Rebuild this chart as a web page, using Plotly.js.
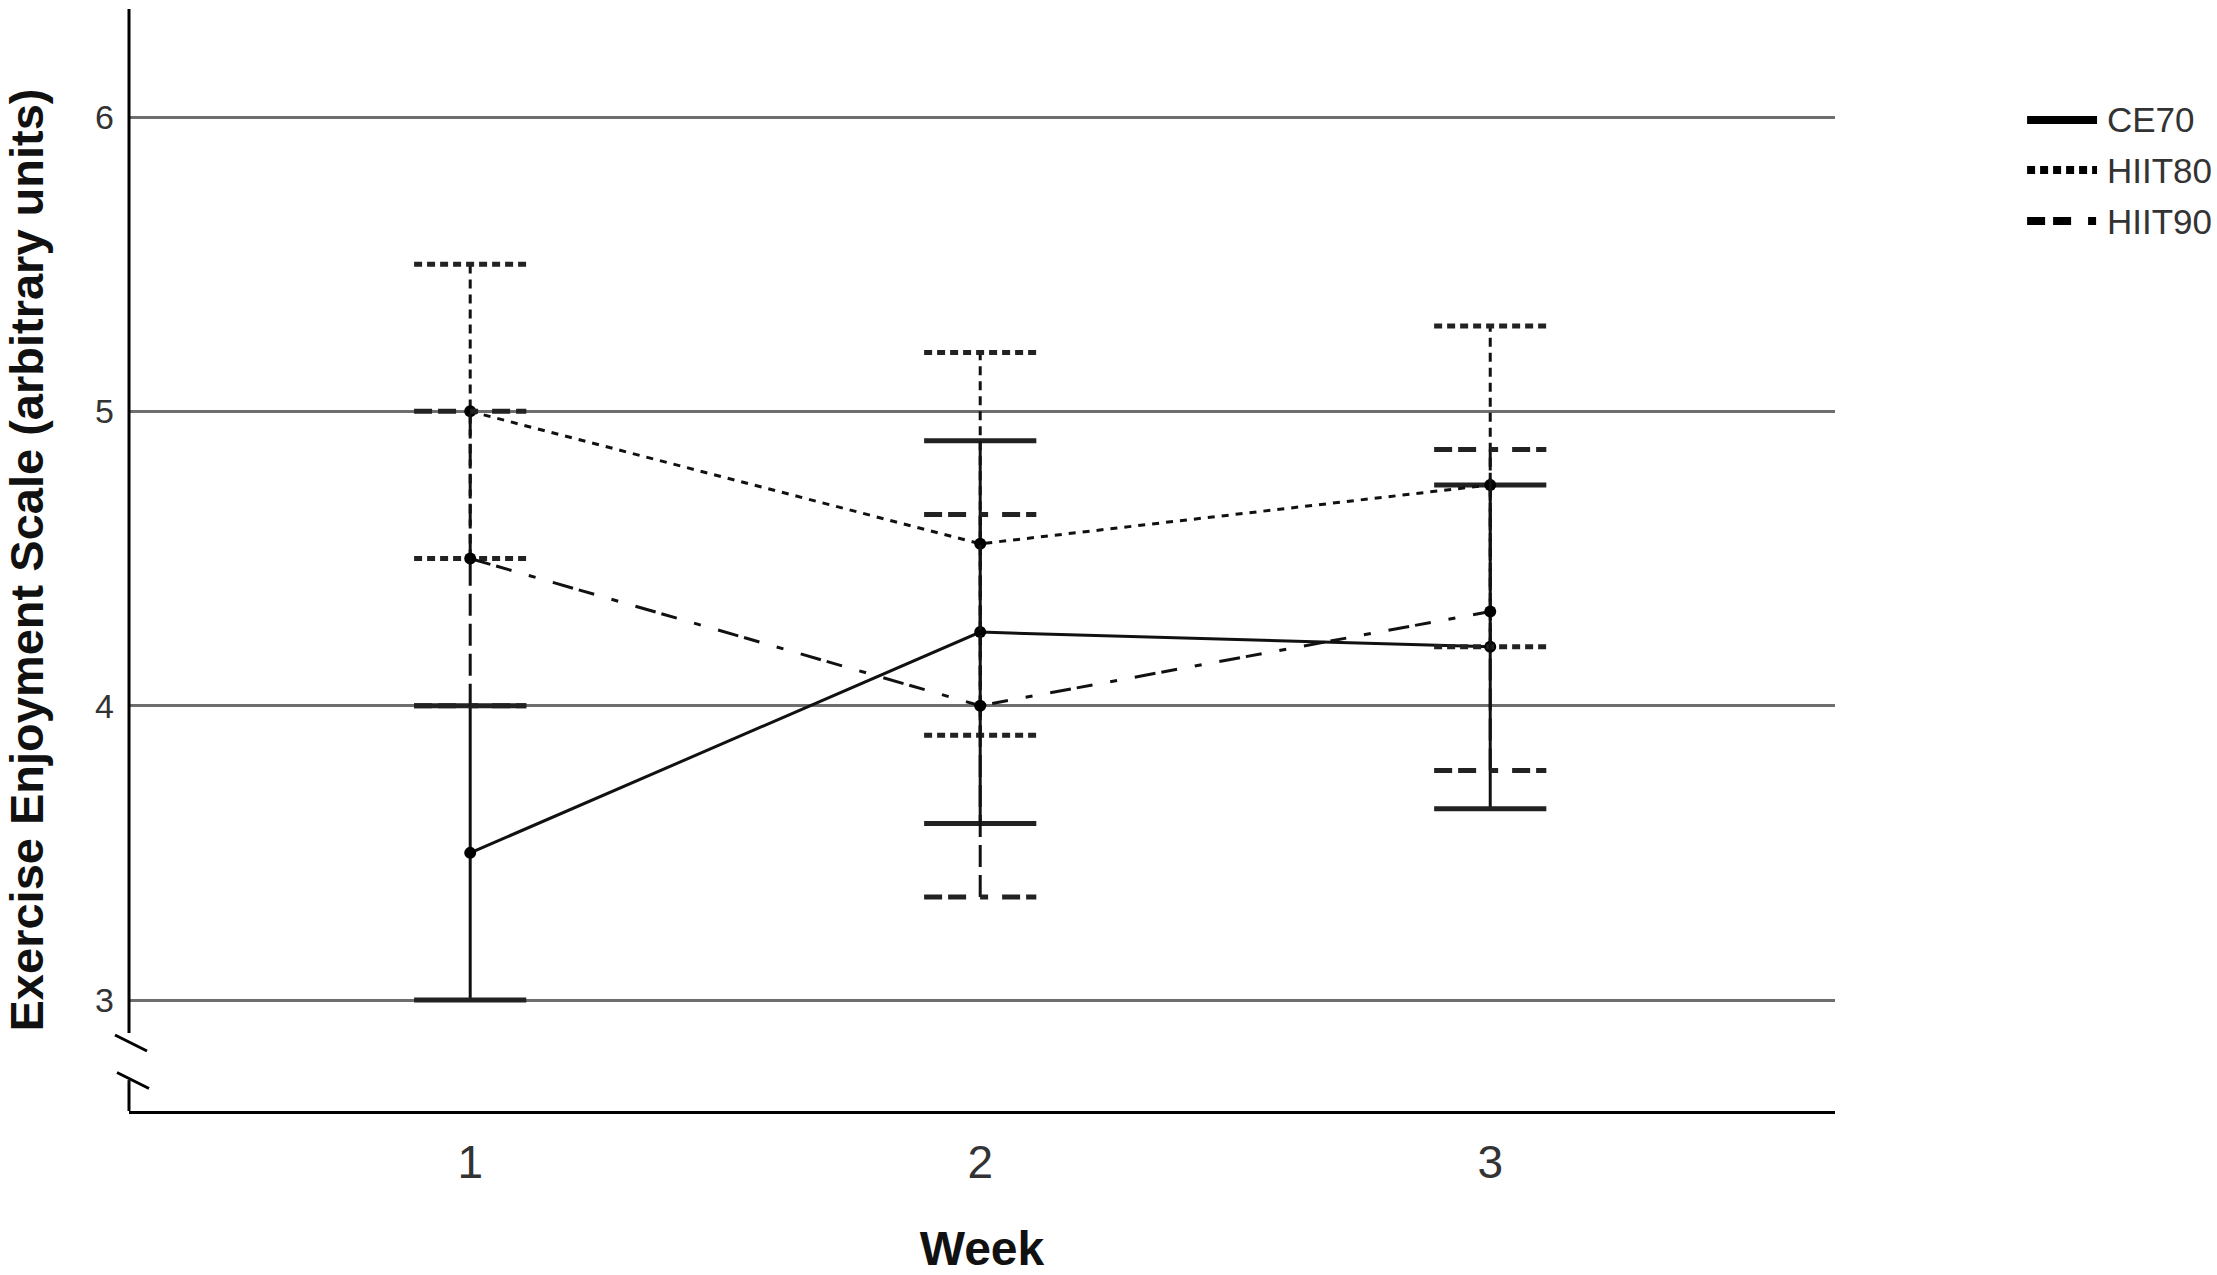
<!DOCTYPE html>
<html>
<head>
<meta charset="utf-8">
<script src="https://cdn.plot.ly/plotly-3.0.1.min.js"></script>
<style>
  html, body { margin: 0; padding: 0; background: #fff; }
  #plot { width: 2217px; height: 1275px; }
</style>
</head>
<body>
<div id="plot"></div>
<script>
// values (mean and 95% CI per week)
var weeks = [1, 2, 3];
var weekLabels = ['1', '2', '3'];
var groupNames = ['CE70', 'HIIT80', 'HIIT90'];

var ce70Mean  = [3.50, 4.25, 4.20];
var ce70Lower = [3.00, 3.60, 3.65];
var ce70Upper = [4.00, 4.90, 4.75];

var hiit80Mean  = [5.00, 4.55, 4.75];
var hiit80Lower = [4.50, 3.90, 4.20];
var hiit80Upper = [5.50, 5.20, 5.29];

var hiit90Mean  = [4.50, 4.00, 4.32];
var hiit90Lower = [4.00, 3.35, 3.78];
var hiit90Upper = [5.00, 4.65, 4.87];

var font = 'Liberation Sans, Arial, sans-serif';
var capHalf = 0.11;   // half width of the CI caps, in week units

var styles = [
  {line: 'solid', bar: 'solid', cap: 'solid', legend: 'solid'},
  {line: '7px,7px', bar: '9px,6px', cap: '8px,5px', legend: '8px,5px'},
  {line: '21px,6px,16px,18px,7px,18px', bar: '22px,8px', cap: '18px,6px,18px,14px,8px,14px', legend: '18px,8px,18px,17px,8px,40px'}
];

var series = [
  {mean: ce70Mean, lo: ce70Lower, hi: ce70Upper},
  {mean: hiit80Mean, lo: hiit80Lower, hi: hiit80Upper},
  {mean: hiit90Mean, lo: hiit90Lower, hi: hiit90Upper}
];

var traces = [];

for (var i = 0; i < series.length; i++) {
  var s = series[i];
  var st = styles[i];
  var bx = [], by = [], cx = [], cy = [];
  for (var j = 0; j < weeks.length; j++) {
    bx.push(weeks[j], weeks[j], null);
    by.push(s.lo[j], s.hi[j], null);
    cx.push(weeks[j] - capHalf, weeks[j] + capHalf, null, weeks[j] - capHalf, weeks[j] + capHalf, null);
    cy.push(s.hi[j], s.hi[j], null, s.lo[j], s.lo[j], null);
  }
  // CI whiskers
  traces.push({
    type: 'scatter', mode: 'lines', x: bx, y: by,
    line: {color: '#111', width: 3, dash: st.bar},
    showlegend: false, hoverinfo: 'skip'
  });
  // caps
  traces.push({
    type: 'scatter', mode: 'lines', x: cx, y: cy,
    line: {color: '#222', width: 5, dash: st.cap},
    showlegend: false, hoverinfo: 'skip'
  });
  // means
  traces.push({
    type: 'scatter', mode: 'lines+markers', x: weeks, y: s.mean,
    name: groupNames[i],
    line: {color: '#111', width: 3, dash: st.line},
    marker: {color: '#000', size: 12},
    showlegend: false
  });
}

// y axis drawn by hand because of the break marks
var shapes = [
  {type: 'line', xref: 'paper', yref: 'paper', x0: 0, x1: 0, y0: 0.0708, y1: 1,
   line: {color: '#000', width: 3}},
  {type: 'line', xref: 'paper', yref: 'paper', x0: 0, x1: 0, y0: 0, y1: 0.028,
   line: {color: '#000', width: 3}},
  {type: 'line', xref: 'paper', yref: 'paper', xsizemode: 'pixel', ysizemode: 'pixel',
   xanchor: 0, yanchor: 0.0617, x0: -14, x1: 18, y0: 8, y1: -8,
   line: {color: '#000', width: 3}},
  {type: 'line', xref: 'paper', yref: 'paper', xsizemode: 'pixel', ysizemode: 'pixel',
   xanchor: 0, yanchor: 0.0277, x0: -12, x1: 20, y0: 8, y1: -8,
   line: {color: '#000', width: 3}}
];

// legend, drawn as line samples plus labels to get the long SPSS-style keys
var annotations = [];
var legendRows = [0.8993, 0.8539, 0.8076];
for (var k = 0; k < groupNames.length; k++) {
  shapes.push({
    type: 'line', xref: 'paper', yref: 'paper',
    x0: 1.1126, x1: 1.1536, y0: legendRows[k], y1: legendRows[k],
    line: {color: '#000', width: 8, dash: styles[k].legend}
  });
  annotations.push({
    xref: 'paper', yref: 'paper', x: 1.1585, y: legendRows[k],
    xanchor: 'left', yanchor: 'middle', showarrow: false,
    text: groupNames[k], font: {family: font, size: 35, color: '#333'}
  });
}

var layout = {
  width: 2217,
  height: 1275,
  margin: {l: 129, r: 382, t: 9, b: 164},
  paper_bgcolor: '#fff',
  plot_bgcolor: '#fff',
  font: {family: font, color: '#222'},
  showlegend: false,
  xaxis: {
    range: [0.331, 3.676],
    tickvals: weeks, ticktext: weekLabels,
    showgrid: false, zeroline: false,
    showline: true, linecolor: '#000', linewidth: 3,
    ticks: '', ticklabelstandoff: 9,
    tickfont: {family: font, size: 46, color: '#333'},
    title: {text: '<b>Week</b>', font: {family: font, size: 48, color: '#111'}, standoff: 66}
  },
  yaxis: {
    range: [2.623, 6.367],
    tick0: 0, dtick: 1,
    showgrid: true, gridcolor: '#6e6e6e', gridwidth: 3,
    zeroline: false, showline: false,
    ticks: '', ticklabelstandoff: 14,
    tickfont: {family: font, size: 34, color: '#333'},
    title: {text: '<b>Exercise Enjoyment Scale (arbitrary units)</b>',
            font: {family: font, size: 47, color: '#111'}, standoff: 42}
  },
  shapes: shapes,
  annotations: annotations
};

Plotly.newPlot('plot', traces, layout, {staticPlot: true});
</script>
</body>
</html>
